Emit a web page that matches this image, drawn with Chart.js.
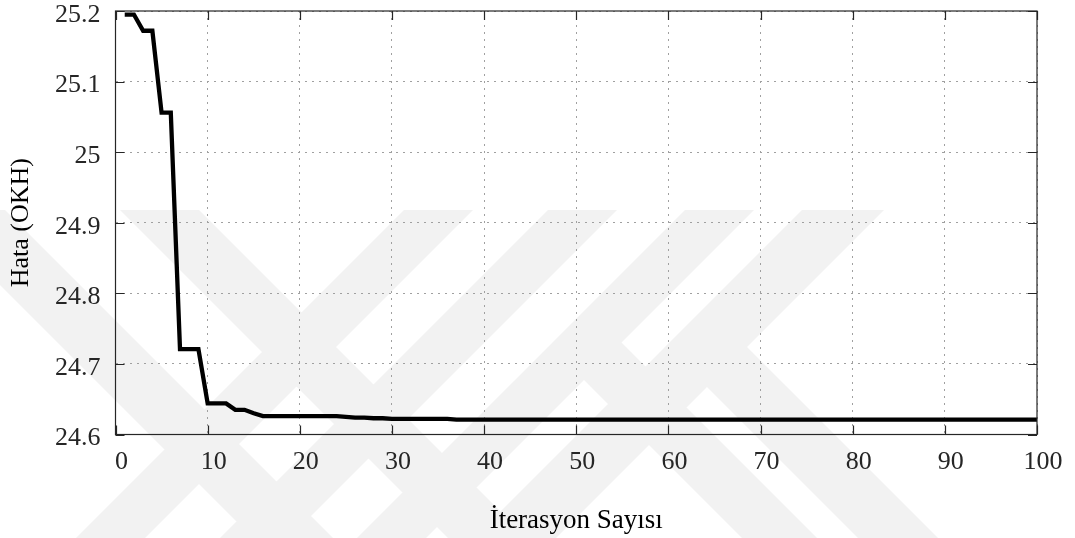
<!DOCTYPE html>
<html>
<head>
<meta charset="utf-8">
<script src="https://cdn.jsdelivr.net/npm/chart.js@4/dist/chart.umd.min.js"></script>
<style>
  html, body { margin: 0; padding: 0; background: #ffffff; }
  #wrap { width: 1075px; height: 538px; position: relative; }
</style>
</head>
<body>
<div id="wrap"><canvas id="c"></canvas></div>
<script>
// Iteration numbers and the error (OKH) recorded at each iteration
const iterations = [
  1, 2, 3, 4, 5, 6, 7, 8, 9, 10,
  11, 12, 13, 14, 15, 16, 17, 18, 19, 20,
  21, 22, 23, 24, 25, 26, 27, 28, 29, 30,
  31, 32, 33, 34, 35, 36, 37, 38, 39, 40,
  41, 42, 43, 44, 45, 46, 47, 48, 49, 50,
  51, 52, 53, 54, 55, 56, 57, 58, 59, 60,
  61, 62, 63, 64, 65, 66, 67, 68, 69, 70,
  71, 72, 73, 74, 75, 76, 77, 78, 79, 80,
  81, 82, 83, 84, 85, 86, 87, 88, 89, 90,
  91, 92, 93, 94, 95, 96, 97, 98, 99, 100
];
const errors = [
  25.195, 25.195, 25.172, 25.172, 25.056, 25.056, 24.721, 24.721, 24.721, 24.644,
  24.644, 24.644, 24.635, 24.635, 24.630, 24.626, 24.626, 24.626, 24.626, 24.626,
  24.626, 24.626, 24.626, 24.626, 24.625, 24.624, 24.624, 24.623, 24.623, 24.622,
  24.622, 24.622, 24.622, 24.622, 24.622, 24.622, 24.621, 24.621, 24.621, 24.621,
  24.621, 24.621, 24.621, 24.621, 24.621, 24.621, 24.621, 24.621, 24.621, 24.621,
  24.621, 24.621, 24.621, 24.621, 24.621, 24.621, 24.621, 24.621, 24.621, 24.621,
  24.621, 24.621, 24.621, 24.621, 24.621, 24.621, 24.621, 24.621, 24.621, 24.621,
  24.621, 24.621, 24.621, 24.621, 24.621, 24.621, 24.621, 24.621, 24.621, 24.621,
  24.621, 24.621, 24.621, 24.621, 24.621, 24.621, 24.621, 24.621, 24.621, 24.621,
  24.621, 24.621, 24.621, 24.621, 24.621, 24.621, 24.621, 24.621, 24.621, 24.621
];

// Axis tick values
const xTicks = [0, 10, 20, 30, 40, 50, 60, 70, 80, 90, 100];
const yTicks = [24.6, 24.7, 24.8, 24.9, 25.0, 25.1, 25.2];

const xTitle = 'İterasyon Sayısı';
const yTitle = 'Hata (OKH)';

const FONT = '"Liberation Serif", "Times New Roman", serif';
const AXIS_COLOR = '#262626';

// Light diagonal band pattern painted behind the axes
const bandPlugin = {
  id: 'bands',
  beforeDraw(chart) {
    const ctx = chart.ctx;
    const H = chart.height;
    const top = 210;
    const h = H - top;
    ctx.save();
    ctx.fillStyle = '#f2f2f2';
    ctx.beginPath();
    // bands falling to the right
    [[-75, 5], [120, 199]].forEach(([a, b]) => {
      ctx.moveTo(a, top); ctx.lineTo(b, top);
      ctx.lineTo(b + h, H); ctx.lineTo(a + h, H); ctx.closePath();
    });
    // bands rising to the right
    [[404, 473], [548, 617], [685, 754], [802, 884]].forEach(([a, b]) => {
      ctx.moveTo(a, top); ctx.lineTo(b, top);
      ctx.lineTo(b - h, H); ctx.lineTo(a - h, H); ctx.closePath();
    });
    // falling bands hanging from the rising ones
    ctx.moveTo(584, 380); ctx.lineTo(621.5, 342.5); ctx.lineTo(817, 538); ctx.lineTo(742, 538); ctx.closePath();
    ctx.moveTo(707, 387); ctx.lineTo(747, 347); ctx.lineTo(938, 538); ctx.lineTo(858, 538); ctx.closePath();
    ctx.fill();
    ctx.restore();
  }
};

// Axes box with inward tick marks on all four sides
const boxPlugin = {
  id: 'box',
  afterDatasetsDraw(chart) {
    const { ctx, chartArea: a, scales } = chart;
    const len = 9;
    ctx.save();
    ctx.strokeStyle = AXIS_COLOR;
    ctx.lineWidth = 1.2;
    ctx.beginPath();
    scales.x.ticks.forEach(t => {
      const px = Math.round(scales.x.getPixelForValue(t.value)) + 0.5;
      ctx.moveTo(px, a.bottom); ctx.lineTo(px, a.bottom - len);
      ctx.moveTo(px, a.top); ctx.lineTo(px, a.top + len);
    });
    scales.y.ticks.forEach(t => {
      const py = Math.round(scales.y.getPixelForValue(t.value)) + 0.5;
      ctx.moveTo(a.left, py); ctx.lineTo(a.left + len, py);
      ctx.moveTo(a.right, py); ctx.lineTo(a.right - len, py);
    });
    ctx.stroke();
    ctx.strokeRect(a.left, a.top, a.right - a.left, a.bottom - a.top);
    ctx.restore();
  }
};

new Chart(document.getElementById('c'), {
  type: 'line',
  data: {
    datasets: [{
      data: iterations.map((it, i) => ({ x: it, y: errors[i] })),
      borderColor: '#000000',
      borderWidth: 4.3,
      borderJoinStyle: 'miter',
      pointRadius: 0,
      tension: 0,
      fill: false
    }]
  },
  options: {
    responsive: true,
    maintainAspectRatio: false,
    animation: false,
    devicePixelRatio: 1,
    layout: { padding: { top: 11, right: 38, left: 0, bottom: 0 } },
    plugins: { legend: { display: false }, tooltip: { enabled: false } },
    scales: {
      x: {
        type: 'linear',
        min: 0, max: 100,
        afterBuildTicks: s => { s.ticks = xTicks.map(v => ({ value: v })); },
        afterFit: s => { s.height = 103.5; s.paddingLeft = 0; s.paddingRight = 0; },
        ticks: {
          font: { family: FONT, size: 26 },
          color: AXIS_COLOR,
          padding: 12,
          labelOffset: 6,
          maxRotation: 0,
          autoSkip: false,
          callback: v => String(v)
        },
        grid: {
          color: '#a0a0a0',
          lineWidth: 1,
          drawTicks: false
        },
        border: { display: false, dash: [2, 5] },
        title: {
          display: true,
          text: xTitle,
          font: { family: FONT, size: 27 },
          color: '#000000',
          padding: { top: 0, bottom: 1 }
        }
      },
      y: {
        type: 'linear',
        min: 24.6, max: 25.2,
        afterBuildTicks: s => { s.ticks = yTicks.map(v => ({ value: v })); },
        afterFit: s => { s.width = 115.5; s.paddingTop = 0; s.paddingBottom = 0; },
        ticks: {
          font: { family: FONT, size: 26 },
          color: AXIS_COLOR,
          padding: 15,
          labelOffset: 4,
          autoSkip: false,
          callback: v => String(Number(v.toFixed(1)))
        },
        grid: {
          color: '#a0a0a0',
          lineWidth: 1,
          drawTicks: false
        },
        border: { display: false, dash: [2, 5] },
        title: {
          display: true,
          text: yTitle,
          font: { family: FONT, size: 26 },
          color: '#000000',
          padding: { top: 6, bottom: 0 }
        }
      }
    }
  },
  plugins: [bandPlugin, boxPlugin]
});
</script>
</body>
</html>
